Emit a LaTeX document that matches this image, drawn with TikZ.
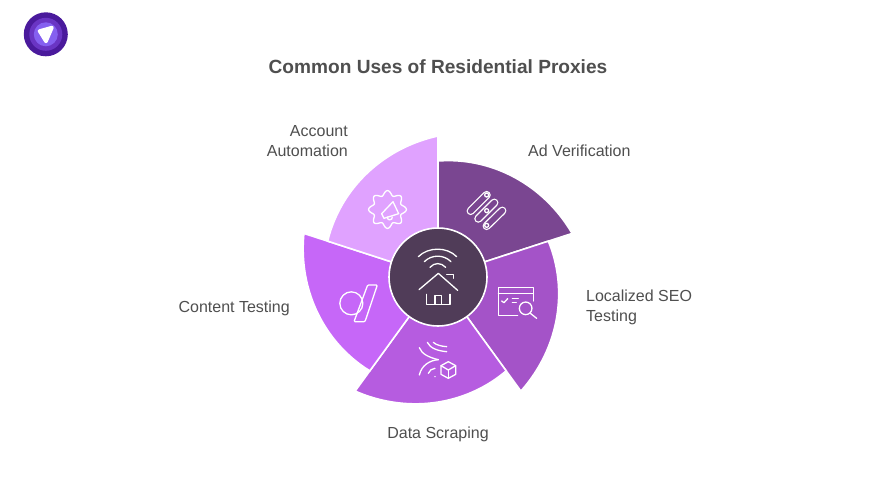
\documentclass[tikz,border=0pt]{standalone}
\usepackage{fontspec}
\setmainfont{Liberation Sans}
\definecolor{adcol}{HTML}{7A4691}
\definecolor{seocol}{HTML}{A453C8}
\definecolor{scrapecol}{HTML}{B65CE0}
\definecolor{contentcol}{HTML}{C667F8}
\definecolor{accountcol}{HTML}{E0A2FF}
\definecolor{hubcol}{HTML}{503C58}
\definecolor{textcol}{HTML}{4F4F4F}
\definecolor{logoa}{HTML}{4A1A9C}
\definecolor{logob}{HTML}{6A35C4}
\definecolor{logoc}{HTML}{8560F0}
\tikzset{
  petal/.style={draw=white, line width=1.6pt, line join=miter},
  icon/.style={draw=white, line width=1.3pt, line cap=round, line join=round},
  label/.style={text=textcol, font=\fontsize{16}{19.5}\selectfont, inner sep=0pt},
}

\begin{document}
\begin{tikzpicture}[x=1pt, y=1pt]
  \useasboundingbox (0, -493) rectangle (876, 0);
  \fill[white] (0, -493) rectangle (876, 0);

  % logo
  \fill[logoa] (45.8, -34.3) circle [radius=22];
  \fill[logob] (45.8, -34.3) circle [radius=16.5];
  \fill[logoc] (45.8, -34.3) circle [radius=12];
  \filldraw[white, line width=3.5pt, line join=round] (39.5, -31) -- (52, -27.5) -- (46, -41.5) -- cycle;

  \node[text=textcol, font=\fontsize{19.1}{24}\selectfont\bfseries, inner sep=0pt] (title) at (438, -66.5) {Common Uses of Residential Proxies};

  % petals, radius grows from 116 to 141 going clockwise
  \draw[petal, fill=adcol] (438, -277) -- plot[domain=0:72, samples=25, smooth] ({438+(116+25*\x/72*(0.45+0.55*\x/72))*cos(90-\x)}, {-277+(116+25*\x/72*(0.45+0.55*\x/72))*sin(90-\x)}) -- cycle;
  \draw[petal, fill=seocol] (438, -277) -- plot[domain=0:72, samples=25, smooth] ({438+(116+25*\x/72*(0.45+0.55*\x/72))*cos(18-\x)}, {-277+(116+25*\x/72*(0.45+0.55*\x/72))*sin(18-\x)}) -- cycle;
  \draw[petal, fill=scrapecol] (438, -277) -- plot[domain=0:72, samples=25, smooth] ({438+(116+25*\x/72*(0.45+0.55*\x/72))*cos(-54-\x)}, {-277+(116+25*\x/72*(0.45+0.55*\x/72))*sin(-54-\x)}) -- cycle;
  \draw[petal, fill=contentcol] (438, -277) -- plot[domain=0:72, samples=25, smooth] ({438+(116+25*\x/72*(0.45+0.55*\x/72))*cos(-126-\x)}, {-277+(116+25*\x/72*(0.45+0.55*\x/72))*sin(-126-\x)}) -- cycle;
  \draw[petal, fill=accountcol] (438, -277) -- plot[domain=0:72, samples=25, smooth] ({438+(116+25*\x/72*(0.45+0.55*\x/72))*cos(162-\x)}, {-277+(116+25*\x/72*(0.45+0.55*\x/72))*sin(162-\x)}) -- cycle;
  \filldraw[fill=hubcol, draw=white, line width=1.6pt] (438, -277) circle [radius=49];

  % hub icon
  \begin{scope}[shift={(385, -225)}, x=0.3333pt, y=-0.3333pt]
    \draw[icon] (100, 95) .. controls (130, 65) and (186, 65) .. (215, 95);
    \draw[icon] (118, 110) .. controls (140, 88) and (176, 88) .. (198, 110);
    \draw[icon] (135, 127) .. controls (148, 112) and (168, 112) .. (182, 127);
    \draw[icon] (102, 194) -- (160, 145) -- (218, 196);
    \draw[icon] (185, 148) -- (205, 148) -- (205, 160);
    \draw[icon] (125, 208) -- (125, 238) -- (195, 238) -- (195, 208);
    \draw[icon] (150, 238) -- (150, 212) -- (170, 212) -- (170, 238);
  \end{scope}

  % account icon
  \draw[icon] plot[domain=0:360, samples=97, smooth cycle] ({387.5+(16.6+2.3*cos(8*\x))*cos(\x)}, {-209.5+(16.6+2.3*cos(8*\x))*sin(\x)});
  \begin{scope}[shift={(355, -180)}, x=0.3333pt, y=-0.3333pt]
    \draw[icon] (80, 101) -- (114, 65) -- (131, 101) -- (87, 115) -- cycle;
    \draw[icon] (97, 111) arc [start angle=170, end angle=370, radius=2.5pt];
  \end{scope}

  % ad icon
  \begin{scope}[shift={(455, -180)}, x=0.3333pt, y=-0.3333pt]
    \draw[icon, double=adcol, double distance=5.6pt] (95, 45) -- (47, 93);
    \draw[icon, double=adcol, double distance=5.6pt] (118, 68) -- (70, 116);
    \draw[icon, double=adcol, double distance=5.6pt] (142, 92) -- (95, 138);
    \draw[icon] (95, 45) circle [radius=2pt];
    \draw[icon] (95, 92) circle [radius=2pt];
    \draw[icon] (95, 136) circle [radius=2pt];
  \end{scope}

  % seo icon
  \begin{scope}[shift={(485, -275)}, x=0.3333pt, y=-0.3333pt]
    \draw[icon] (98, 122) -- (40, 122) -- (40, 37) -- (145, 37) -- (145, 78);
    \draw[icon] (40, 55) -- (145, 55);
    \draw[icon] (50, 78) -- (57, 83) -- (68, 71);
    \draw[icon] (82, 71) -- (100, 71);
    \draw[icon] (82, 82) -- (94, 82);
    \draw[icon] (122, 100) circle [radius=6.3pt];
    \draw[icon] (136, 115) -- (155, 130);
  \end{scope}

  % scraping icon
  \begin{scope}[shift={(410, -335)}, x=0.3333pt, y=-0.3333pt]
    \draw[icon] (52, 22) .. controls (60, 40) and (85, 48) .. (110, 50);
    \draw[icon] (70, 22) .. controls (78, 30) and (95, 34) .. (110, 35);
    \draw[icon] (28, 38) .. controls (35, 58) and (60, 68) .. (85, 74);
    \draw[icon] (85, 74) .. controls (60, 76) and (35, 90) .. (28, 120);
    \draw[icon] (55, 115) .. controls (58, 106) and (66, 101) .. (75, 100);
    \fill[white] (75, 125) circle [radius=0.8pt];
    \draw[icon] (115, 80) -- (137, 92) -- (137, 118) -- (115, 130) -- (93, 118) -- (93, 92) -- cycle;
    \draw[icon] (93, 92) -- (115, 105) -- (137, 92);
    \draw[icon] (115, 105) -- (115, 130);
  \end{scope}

  % content icon
  \begin{scope}[shift={(330, -275)}, x=0.3333pt, y=-0.3333pt]
    \draw[icon] (64, 85) circle [radius=11.5pt];
    \draw[icon, rounded corners=1pt] (113, 30) -- (142, 30) -- (105, 140) -- (72, 140) -- cycle;
  \end{scope}

  % labels
  \node[label, align=right, anchor=east] (account) at (348, -141) {Account\\Automation};
  \node[label, anchor=west] (ad) at (528, -150.5) {Ad Verification};
  \node[label, align=left, anchor=west] (seo) at (586, -307.5) {Localized SEO\\Testing};
  \node[label] (scrape) at (438, -434) {Data Scraping};
  \node[label, anchor=east] (content) at (290, -308.5) {Content Testing};
\end{tikzpicture}
\end{document}
